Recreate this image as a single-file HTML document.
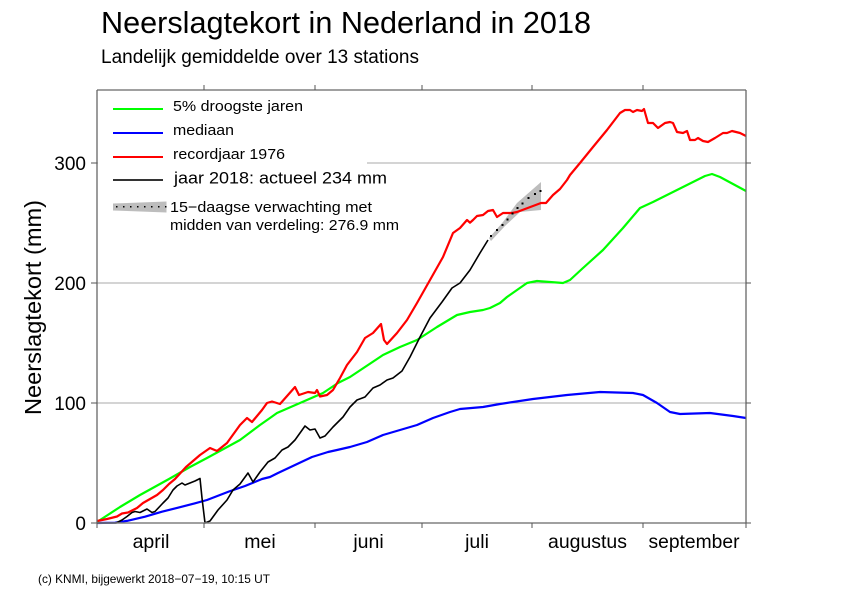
<!DOCTYPE html>
<html>
<head>
<meta charset="utf-8">
<style>
html,body{margin:0;padding:0;background:#fff;}
svg{display:block;}
text{font-family:"Liberation Sans","DejaVu Sans",sans-serif;fill:#000;}
</style>
</head>
<body>
<svg width="842" height="595" viewBox="0 0 842 595" xmlns="http://www.w3.org/2000/svg">
<rect x="0" y="0" width="842" height="595" fill="#fff"/>

<!-- Titles -->
<text x="101" y="33" font-size="31" textLength="490" lengthAdjust="spacingAndGlyphs">Neerslagtekort in Nederland in 2018</text>
<text x="101" y="63" font-size="19" textLength="318" lengthAdjust="spacingAndGlyphs">Landelijk gemiddelde over 13 stations</text>

<!-- Gridlines -->
<g stroke="#aaaaaa" stroke-width="1">
<line x1="97" y1="163" x2="746" y2="163"/>
<line x1="97" y1="283" x2="746" y2="283"/>
<line x1="97" y1="403" x2="746" y2="403"/>
</g>

<!-- Legend background -->
<rect x="98" y="91" width="269" height="150" fill="#fff"/>

<!-- Forecast band -->
<polygon points="489,238 503,222 517,203 541,182 541,210 520,212 505,226 491,241" fill="#bdbdbd"/>

<!-- Median (blue) -->
<polyline fill="none" stroke="#0000ff" stroke-width="2.2" stroke-linejoin="round" points="97,523 115,522.7 128,520.7 145,516.7 162,511.7 178,507.7 195,503.3 207,500 229,491.5 245,486 262,479 270,477 278,473 295,465 312,457 328,452 337,450 350,447 367,442 383,435 400,430 417,425 433,418 450,412 460,409 483,407 500,404 533,399 567,395 600,392 633,393 643,395 657,403 670,412 680,414 710,413 733,416 746,418"/>

<!-- 5% driest (green) -->
<polyline fill="none" stroke="#00ff00" stroke-width="2.2" stroke-linejoin="round" points="97,522 120,507 140,495 169,479 190,467 207,458 240,440 260,425 270,418 277,413 300,403 323,393 338,383 350,377 383,355 400,347 417,340 437,327 457,315 470,312 483,310 490,308 500,303 507,297 527,283 537,281 550,282 563,283 570,280 583,268 603,250 623,228 640,208 653,202 667,195 693,182 705,176 712,174 720,177 746,191"/>

<!-- Record 1976 (red) -->
<polyline fill="none" stroke="#ff0000" stroke-width="2.2" stroke-linejoin="round" points="97,521 107,519 117,516.5 122,513.5 128,512.5 137,508 143,503 150,499 157,495 163,490 169,484 175,479 186,467 200,455 210,448 217,451 227,443 240,425 247,418 252,422 262,410 267,403 272,401.5 280,404 295,387 299,395 308,392 315,393 317,390 320,396.5 327,395 333,390 340,378 347,365 357,352 365,338 373,333 381,324 384,340 387,344 397,333 407,320 417,303 430,280 443,257 453,233 460,228 467,220 470,222.7 473,220 477,216 483,215 488,211 493,210 497,217 503,213 512,213 517,212 541,203 546,203 553,195 560,189 567,180 570,175 580,163 593,147 607,130 620,113 625,110 630,110 633,112 637,110 642,111 644,109 648,123 653,123 658,128 665,123 670,122 673,123 677,132 683,133 687,131 690,140 695,140 698,138 703,141 708,142 715,138 723,133 727,133 732,131 740,133 746,136"/>

<!-- 2018 (black) -->
<polyline fill="none" stroke="#000" stroke-width="1.6" stroke-linejoin="round" points="97,523 116,523 122,520 127,516.5 132,512.5 135,511.5 140,512.5 147,509 152,512.5 155,511.5 163,503 168,498 173,490 177,486 182,483 185,485 190,483 195,481 200,478.5 202,498 205,523 210,521 218,510 227,500 233,490 240,484 248,473 253,482 260,472 268,462 275,458 282,450 288,447 295,440 300,433 305,426 310,430 315,429 320,438 325,436 333,427 343,417 350,407 357,400 365,397 373,388 380,385 387,380 393,378 402,371 410,357 420,337 430,318 442,302 452,288 460,283 470,270 480,253 488,240"/>

<!-- Forecast dots -->
<g fill="#000">
<rect x="490" y="235" width="2" height="2"/>
<rect x="496" y="229" width="2" height="2"/>
<rect x="501.5" y="224" width="2" height="2"/>
<rect x="506.5" y="218.5" width="2" height="2"/>
<rect x="511.5" y="212.5" width="2" height="2"/>
<rect x="516.5" y="207" width="2" height="2"/>
<rect x="521.5" y="202.5" width="2" height="2"/>
<rect x="527.5" y="197" width="2" height="2"/>
<rect x="534" y="193" width="2" height="2"/>
<rect x="539.5" y="190" width="2" height="2"/>
</g>

<!-- Axes -->
<line x1="97" y1="90" x2="746" y2="90" stroke="#a0a0a0" stroke-width="2"/>
<line x1="97" y1="523" x2="746" y2="523" stroke="#808080" stroke-width="1.5"/>
<line x1="97" y1="90" x2="97" y2="523" stroke="#666" stroke-width="1.3"/>
<line x1="746" y1="90" x2="746" y2="523" stroke="#666" stroke-width="1.3"/>

<!-- Ticks -->
<g stroke="#555" stroke-width="1">
<line x1="91" y1="163" x2="97" y2="163"/>
<line x1="91" y1="283" x2="97" y2="283"/>
<line x1="91" y1="403" x2="97" y2="403"/>
<line x1="91" y1="523" x2="97" y2="523"/>
<line x1="746" y1="163" x2="751" y2="163"/>
<line x1="746" y1="283" x2="751" y2="283"/>
<line x1="746" y1="403" x2="751" y2="403"/>
<line x1="746" y1="523" x2="751" y2="523"/>
<line x1="204" y1="85" x2="204" y2="90"/>
<line x1="315" y1="85" x2="315" y2="90"/>
<line x1="422" y1="85" x2="422" y2="90"/>
<line x1="532" y1="85" x2="532" y2="90"/>
<line x1="643" y1="85" x2="643" y2="90"/>
<line x1="97" y1="523" x2="97" y2="528"/>
<line x1="204" y1="523" x2="204" y2="528"/>
<line x1="315" y1="523" x2="315" y2="528"/>
<line x1="422" y1="523" x2="422" y2="528"/>
<line x1="532" y1="523" x2="532" y2="528"/>
<line x1="643" y1="523" x2="643" y2="528"/>
<line x1="746" y1="523" x2="746" y2="528"/>
</g>

<!-- Y tick labels -->
<g font-size="19" text-anchor="end">
<text x="86" y="170">300</text>
<text x="86" y="290">200</text>
<text x="86" y="410">100</text>
<text x="86" y="530">0</text>
</g>

<!-- Y axis title -->
<text transform="translate(41,307.5) rotate(-90)" font-size="23.5" text-anchor="middle" textLength="215" lengthAdjust="spacingAndGlyphs">Neerslagtekort (mm)</text>

<!-- Month labels -->
<g font-size="19.5" text-anchor="middle">
<text x="151" y="548">april</text>
<text x="260" y="548">mei</text>
<text x="368.5" y="548">juni</text>
<text x="477" y="548">juli</text>
<text x="587.5" y="548" textLength="79" lengthAdjust="spacingAndGlyphs">augustus</text>
<text x="694" y="548" textLength="91" lengthAdjust="spacingAndGlyphs">september</text>
</g>

<!-- Footer -->
<text x="38" y="583" font-size="12" textLength="232" lengthAdjust="spacingAndGlyphs">(c) KNMI, bijgewerkt 2018−07−19, 10:15 UT</text>

<!-- Legend -->
<line x1="113" y1="109" x2="163" y2="109" stroke="#00ff00" stroke-width="2"/>
<line x1="113" y1="133" x2="163" y2="133" stroke="#0000ff" stroke-width="2"/>
<line x1="113" y1="157" x2="163" y2="157" stroke="#ff0000" stroke-width="2"/>
<line x1="113" y1="180" x2="163" y2="180" stroke="#333" stroke-width="2"/>
<polygon points="113,203.5 166.5,201.5 166.5,212.5 113,210.5" fill="#bdbdbd"/>
<g fill="#000">
<rect x="116" y="206" width="1.5" height="1.5"/>
<rect x="123" y="206" width="1.5" height="1.5"/>
<rect x="130" y="206" width="1.5" height="1.5"/>
<rect x="137" y="206" width="1.5" height="1.5"/>
<rect x="144" y="206" width="1.5" height="1.5"/>
<rect x="151" y="206" width="1.5" height="1.5"/>
<rect x="158" y="206" width="1.5" height="1.5"/>
<rect x="165" y="206" width="1.5" height="1.5"/>
</g>
<text x="173" y="111" font-size="15" textLength="130" lengthAdjust="spacingAndGlyphs">5% droogste jaren</text>
<text x="173" y="135" font-size="15" textLength="61" lengthAdjust="spacingAndGlyphs">mediaan</text>
<text x="173" y="159" font-size="15" textLength="112" lengthAdjust="spacingAndGlyphs">recordjaar 1976</text>
<text x="174" y="183.5" font-size="17" textLength="213" lengthAdjust="spacingAndGlyphs">jaar 2018: actueel 234 mm</text>
<text x="170" y="212" font-size="15" textLength="202" lengthAdjust="spacingAndGlyphs">15−daagse verwachting met</text>
<text x="170" y="230" font-size="15" textLength="229" lengthAdjust="spacingAndGlyphs">midden van verdeling: 276.9 mm</text>
</svg>
</body>
</html>
